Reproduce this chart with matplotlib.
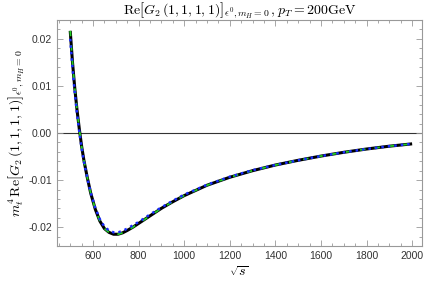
import matplotlib
matplotlib.use("Agg")
import matplotlib.pyplot as plt
from matplotlib.ticker import MultipleLocator, FormatStrFormatter

plt.rcParams['mathtext.fontset'] = 'cm'
plt.rcParams['font.family'] = ['Liberation Sans', 'DejaVu Sans']

# sqrt(s) sample points
sqrt_s = [500, 510, 520, 530, 540, 550, 560, 575, 590, 610, 630, 650, 670, 690, 710,
          730, 750, 775, 800, 850, 900, 950, 1000, 1100, 1200, 1300, 1400, 1500,
          1600, 1700, 1800, 1900, 2000]
# black solid series
g2_black = [0.0217, 0.0150, 0.0095, 0.0048, 0.0008, -0.0028, -0.0058, -0.0095, -0.0128,
            -0.0162, -0.0187, -0.0203, -0.0211, -0.0215, -0.0215,
            -0.0212, -0.0207, -0.0200, -0.0192, -0.0176, -0.0160, -0.0146, -0.0133,
            -0.0111, -0.0094, -0.0080, -0.0068, -0.0058, -0.0049, -0.0041, -0.0034,
            -0.0028, -0.0023]
# green dashed series
g2_green = [0.0217, 0.0150, 0.0095, 0.0048, 0.0008, -0.0028, -0.0058, -0.0095, -0.0128,
            -0.0162, -0.0187, -0.0203, -0.0211, -0.0215, -0.0215,
            -0.0212, -0.0207, -0.0200, -0.0192, -0.0176, -0.0160, -0.0146, -0.0133,
            -0.0111, -0.0094, -0.0080, -0.0068, -0.0058, -0.0049, -0.0041, -0.0034,
            -0.0028, -0.0023]
# blue dotted series
g2_blue = [0.0200, 0.0138, 0.0085, 0.0040, 0.0002, -0.0032, -0.0061, -0.0096, -0.0127,
           -0.0159, -0.0183, -0.0199, -0.0207, -0.0211, -0.0211,
           -0.0208, -0.0203, -0.0196, -0.0189, -0.0173, -0.0158, -0.0144, -0.0131,
           -0.0110, -0.0093, -0.0079, -0.0068, -0.0058, -0.0049, -0.0041, -0.0034,
           -0.0028, -0.0023]

fig = plt.figure(figsize=(4.27, 2.90), dpi=100)
ax = fig.add_axes([0.1335, 0.1517, 0.9876 - 0.1335, 0.931 - 0.1517])

ax.axhline(0, color='#333333', lw=0.8, zorder=1)
ax.plot(sqrt_s, g2_black, color='black', lw=2.2, solid_capstyle='butt', zorder=2)
ax.plot(sqrt_s, g2_green, color='#22cc22', lw=1.3, dashes=(3, 5), zorder=3)
ax.plot(sqrt_s, g2_blue, color='#1a2cff', lw=1.8, dashes=(1.0, 1.6), zorder=4)

ax.set_xlim(442, 2042)
ax.set_ylim(-0.024, 0.024)

ax.xaxis.set_major_locator(MultipleLocator(200))
ax.xaxis.set_minor_locator(MultipleLocator(50))
ax.yaxis.set_major_locator(MultipleLocator(0.01))
ax.yaxis.set_minor_locator(MultipleLocator(0.002))
ax.yaxis.set_major_formatter(FormatStrFormatter('%.2f'))

for s in ax.spines.values():
    s.set_color('#999999')
    s.set_linewidth(0.8)
ax.tick_params(which='both', direction='in', top=True, right=True, color='#999999',
               labelsize=7.5, labelcolor='#333333', width=0.6)
ax.tick_params(which='major', length=4)
ax.tick_params(which='minor', length=2)

ax.set_title(r"$\mathrm{Re}\left[G_2\,(1,1,1,1)\right]_{\epsilon^0,m_H=0}\,,p_T=200\mathrm{GeV}$",
             fontsize=10, pad=3)
ax.set_ylabel(r"$m_t^4\,\mathrm{Re}\left[G_2\,(1,1,1,1)\right]_{\epsilon^0,m_H=0}$",
              fontsize=10, labelpad=2)
ax.set_xlabel(r"$\sqrt{s}$", fontsize=10, labelpad=3)

fig.savefig("out.png", dpi=100)
